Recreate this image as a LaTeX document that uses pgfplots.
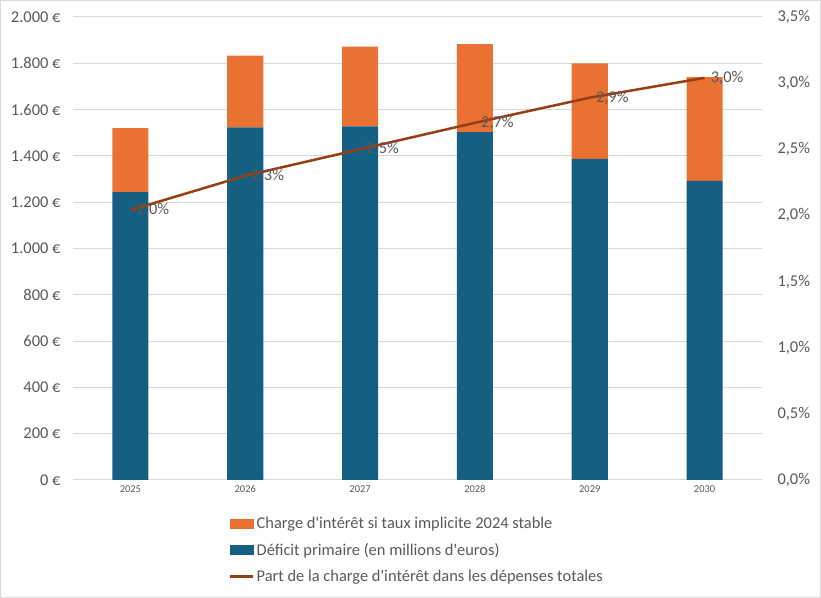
\documentclass[border=0pt]{standalone}
\usepackage{pgfplots}
\pgfplotsset{compat=1.18}
\usepackage{fontspec}
\setmainfont{Carlito}
\definecolor{cblue}{HTML}{156082}
\definecolor{corange}{HTML}{E97132}
\definecolor{cline}{HTML}{963F14}
\definecolor{ctext}{HTML}{595959}
\definecolor{cgrid}{HTML}{D9D9D9}
\newcommand{\q}{\textquotesingle}
\begin{document}
\begin{tikzpicture}[x=1bp,y=1bp]
\draw[cgrid, line width=1bp] (0.5,0.5) rectangle (820.5,597.5);
\begin{axis}[
  at={(73bp,118bp)}, anchor=south west,
  scale only axis, width=689bp, height=463bp,
  xmin=-0.5, xmax=5.5, ymin=0, ymax=2000,
  ybar stacked, bar width=0.314,
  axis line style={draw=none},
  major tick length=0pt,
  xtick={0,1,2,3,4,5},
  xticklabels={2025,2026,2027,2028,2029,2030},
  xticklabel style={font=\fontsize{10.5}{11}\selectfont, text=ctext, yshift=-2bp},
  ytick={0,200,...,2000},
  yticklabels={0~€,200~€,400~€,600~€,800~€,1.000~€,1.200~€,1.400~€,1.600~€,1.800~€,2.000~€},
  yticklabel style={font=\fontsize{16.5}{16.5}\selectfont, text=ctext, xshift=-9bp},
  ymajorgrids, grid style={cgrid, line width=1bp},
]
\addplot[fill=cblue, draw=none] coordinates {(0,1244) (1,1523) (2,1527) (3,1503) (4,1387) (5,1292)};
\addplot[fill=corange, draw=none] coordinates {(0,276) (1,310) (2,345) (3,380) (4,413) (5,448)};
\end{axis}
\begin{axis}[
  at={(73bp,118bp)}, anchor=south west,
  scale only axis, width=689bp, height=463bp,
  xmin=-0.5, xmax=5.5, ymin=0, ymax=3.5,
  axis line style={draw=none},
  major tick length=0pt,
  xtick=\empty,
  ytick={0,0.5,...,3.5},
  yticklabels={{0,0\%},{0,5\%},{1,0\%},{1,5\%},{2,0\%},{2,5\%},{3,0\%},{3,5\%}},
  yticklabel pos=right,
  yticklabel style={font=\fontsize{16.5}{16.5}\selectfont, text=ctext, xshift=12bp},
  legend style={at={(axis description cs:0.222,-0.072)}, anchor=north west,
    draw=none, fill=none, font=\fontsize{16.5}{16.5}\selectfont, text=ctext,
    row sep=9bp, legend cell align=left,
    /tikz/every even column/.append style={column sep=0bp}},
]
\addlegendimage{legend image code/.code={\fill[corange] (0bp,-4.5bp) rectangle (23bp,4.5bp);}}
\addlegendimage{legend image code/.code={\fill[cblue] (0bp,-4.5bp) rectangle (23bp,4.5bp);}}
\addplot[cline, line width=2.5bp, mark=none,
  legend image code/.code={\draw[cline, line width=2.5bp] (0bp,0bp) -- (23bp,0bp);},
  nodes near coords, point meta=explicit symbolic,
  every node near coord/.append style={anchor=west, xshift=4bp, yshift=0bp,
    font=\fontsize{16.5}{16.5}\selectfont, text=ctext, inner sep=1bp}]
  coordinates {(0,2.04) [2,0\%] (1,2.30) [2,3\%] (2,2.50) [2,5\%] (3,2.70) [2,7\%] (4,2.89) [2,9\%] (5,3.04) [3,0\%]};
\legend{Charge d\q intérêt si taux implicite 2024 stable, Déficit primaire (en millions d\q euros), Part de la charge d\q intérêt dans les dépenses totales}
\end{axis}
\end{tikzpicture}
\end{document}
